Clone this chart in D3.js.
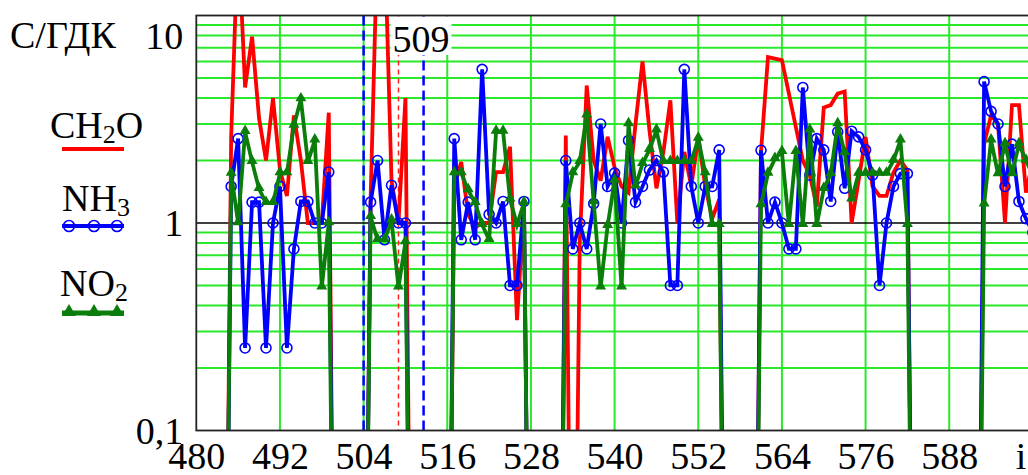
<!DOCTYPE html>
<html>
<head>
<meta charset="utf-8">
<script src="https://cdn.jsdelivr.net/npm/d3@7/dist/d3.min.js"></script>
<style>
  body { margin: 0; background: #fff; }
  svg { display: block; }
  text { font-family: "Liberation Serif", "Times New Roman", serif; fill: #000; }
</style>
</head>
<body>
<svg id="chart" width="1028" height="475"></svg>
<script>
// Concentration relative to the maximum permissible level (С/ГДК) per sample index i.
// Index of the first value in every series below; one value per step of i.
const iStart = 480;

// Zero means no measurement: the line falls off the bottom of the log axis.
const ch2o = [
  0, 0, 0, 0, 0,
  2.6, 25, 4.5, 7.9, 3.2, 2.0, 4.0, 1.8, 1.35, 3.3, 2.0, 1.0, 1.0, 1.0, 3.4,
  0, 0, 0, 0, 0,
  1.3, 25, 25, 1.6, 1.0, 4.0,
  0, 0, 0, 0, 0, 0,
  1.5, 1.97, 1.1, 0.95, 1.0, 1.0, 1.76, 1.76, 2.33, 0.34, 1.2,
  0, 0, 0, 0, 0,
  2.64, 0, 0.8, 4.6, 2.0, 1.6, 2.6, 1.85, 1.5, 1.4, 3.0, 6.0, 2.8, 1.47, 2.2,
  3.9, 1.0, 2.2, 1.5, 2.6, 1.5, 1.05, 1.3,
  0, 0, 0, 0, 0,
  2.2, 6.3, 6.2, 6.1, 4.2, 2.9, 2.0, 1.7, 1.2, 3.6, 3.7, 4.2, 4.3, 1.0, 1.6,
  2.6, 1.5, 1.35, 1.35, 1.75, 2.0, 1.8,
  0, 0, 0, 0, 0, 0, 0, 0, 0, 0,
  2.4, 3.3, 3.0, 1.0, 3.7, 3.7, 1.4, 2.0
];

const nh3 = [
  0, 0, 0, 0, 0,
  1.5, 2.55, 0.25, 1.26, 1.26, 0.25, 1.0, 1.5, 0.25, 0.75, 1.27, 1.27, 1.0, 1.0, 1.76,
  0, 0, 0, 0, 0,
  1.26, 2.0, 0.83, 1.52, 1.0, 1.0,
  0, 0, 0, 0, 0, 0,
  2.55, 0.83, 1.26, 0.83, 5.5, 1.1, 1.0, 1.27, 0.5, 0.5, 1.27,
  0, 0, 0, 0, 0,
  2.0, 0.75, 1.0, 0.75, 1.24, 3.0, 1.5, 1.74, 1.0, 2.5, 1.26, 1.5, 1.8, 2.0, 1.76,
  0.5, 0.5, 5.5, 1.5, 1.0, 1.5, 1.5, 2.25,
  0, 0, 0, 0, 0,
  2.24, 1.0, 1.26, 1.0, 0.75, 0.75, 4.5, 1.7, 2.55, 2.25, 1.27, 2.75, 1.47, 2.77, 2.6,
  2.25, 1.7, 0.5, 1.0, 1.5, 1.73, 1.73,
  0, 0, 0, 0, 0, 0, 0, 0, 0, 0,
  4.8, 3.45, 3.0, 1.5, 2.4, 1.27, 1.05, 0.9
];

const no2 = [
  0, 0, 0, 0, 0,
  1.73, 1.0, 2.75, 1.97, 1.46, 1.25, 1.25, 1.74, 1.74, 2.95, 3.95, 1.97, 2.5, 0.49, 1.0,
  0, 0, 0, 0, 0,
  1.07, 0.83, 0.83, 1.03, 0.49, 0.81,
  0, 0, 0, 0, 0, 0,
  1.74, 1.74, 1.44, 1.25, 0.98, 0.83, 2.76, 2.76, 1.3, 0.98, 1.25,
  0, 0, 0, 0, 0,
  1.22, 1.74, 1.97, 3.3, 1.26, 0.49, 0.97, 1.6, 0.49, 3.0, 1.5, 1.93, 2.25, 2.8, 1.97,
  1.97, 1.97, 1.97, 1.97, 2.55, 1.74, 0.98, 0.98,
  0, 0, 0, 0, 0,
  1.22, 1.73, 2.04, 2.2, 0.98, 2.2, 0.98, 2.8, 0.98, 1.46, 1.72, 3.0, 2.18, 1.3, 1.73,
  1.73, 1.73, 1.73, 1.73, 2.0, 2.5, 0.98,
  0, 0, 0, 0, 0, 0, 0, 0, 0, 0,
  1.23, 2.5, 1.72, 2.4, 1.72, 2.4, 2.0, 1.7
];

// Axis ticks and grid
const xTicks = [480, 492, 504, 516, 528, 540, 552, 564, 576, 588];
const xMax = 600;
const yTicks = [0.1, 1, 10];
const yTickLabels = ["0,1", "1", "10"];
const yGrid = [0.2, 0.3, 0.4, 0.5, 0.6, 0.7, 0.8, 0.9, 2, 3, 4, 5, 6, 7, 8, 9];

// Marked sample positions
const blueMarkers = [504, 512.6];
const redMarkers = [509];
const markerLabel = "509";

// Stand-in for zero on the logarithmic axis
const FLOOR = 0.001;

(function draw() {
  const svg = d3.select("#chart");

  const x = d3.scaleLinear().domain([iStart, xMax]).range([196.3, 1032.9]);
  const y = d3.scaleLog().domain([0.1, 10]).range([430.5, 15.5]);

  const pL = x(iStart), pR = x(xMax), pT = y(10), pB = y(0.1);
  const gridColor = "#2ae82a";

  svg.append("defs").append("clipPath").attr("id", "plotClip")
    .append("rect").attr("x", pL).attr("y", pT)
    .attr("width", pR - pL).attr("height", pB - pT);

  // Grid
  const gridG = svg.append("g");
  gridG.selectAll("line.h").data(yGrid).join("line").attr("class", "h")
    .attr("x1", pL).attr("x2", pR)
    .attr("y1", d => y(d)).attr("y2", d => y(d))
    .attr("stroke", gridColor).attr("stroke-width", 2);
  gridG.selectAll("line.v").data(xTicks.filter(d => d > iStart)).join("line").attr("class", "v")
    .attr("x1", d => x(d)).attr("x2", d => x(d))
    .attr("y1", pT).attr("y2", pB)
    .attr("stroke", gridColor).attr("stroke-width", 2);
  gridG.append("line")
    .attr("x1", pL).attr("x2", pR)
    .attr("y1", y(1)).attr("y2", y(1))
    .attr("stroke", "#000").attr("stroke-width", 1.5);

  // Marker lines
  const markG = svg.append("g");
  markG.selectAll("line.b").data(blueMarkers).join("line").attr("class", "b")
    .attr("x1", d => x(d)).attr("x2", d => x(d))
    .attr("y1", pT).attr("y2", pB)
    .attr("stroke", "#0000ff").attr("stroke-width", 2.5)
    .attr("stroke-dasharray", "10,5");
  markG.selectAll("line.r").data(redMarkers).join("line").attr("class", "r")
    .attr("x1", d => x(d)).attr("x2", d => x(d))
    .attr("y1", pT).attr("y2", pB)
    .attr("stroke", "#ff2020").attr("stroke-width", 1.5)
    .attr("stroke-dasharray", "5,4");

  // Series
  const toPoints = arr => arr.map((v, k) => ({ i: iStart + k, v }));
  const line = d3.line()
    .x(d => x(d.i))
    .y(d => y(Math.max(d.v, FLOOR)));

  const series = [
    { data: ch2o, color: "#ff0000", marker: "none" },
    { data: nh3, color: "#0000ff", marker: "circle" },
    { data: no2, color: "#0a7d0a", marker: "triangle" }
  ];

  const plotG = svg.append("g").attr("clip-path", "url(#plotClip)");
  const tri = d3.symbol().type(d3.symbolTriangle).size(52);
  const triLegend = d3.symbol().type(d3.symbolTriangle).size(85);

  series.forEach(s => {
    const pts = toPoints(s.data);
    plotG.append("path")
      .datum(pts)
      .attr("d", line)
      .attr("fill", "none")
      .attr("stroke", s.color)
      .attr("stroke-width", 3.8)
      .attr("stroke-linejoin", "miter");
    const shown = pts.filter(d => d.v > 0);
    if (s.marker === "circle") {
      plotG.append("g").selectAll("circle").data(shown).join("circle")
        .attr("cx", d => x(d.i)).attr("cy", d => y(d.v)).attr("r", 5)
        .attr("fill", "none").attr("stroke", s.color).attr("stroke-width", 1.6);
    } else if (s.marker === "triangle") {
      plotG.append("g").selectAll("path").data(shown).join("path")
        .attr("d", tri)
        .attr("transform", d => `translate(${x(d.i)},${y(d.v) - 1})`)
        .attr("fill", s.color);
    }
  });

  // Marker label with white backing
  const lblG = svg.append("g");
  const lbl = lblG.append("text")
    .attr("x", (x(redMarkers[0]) + x(blueMarkers[1])) / 2 + 10)
    .attr("y", 52)
    .attr("text-anchor", "middle")
    .attr("font-size", 38)
    .text(markerLabel);
  const bb = lbl.node().getBBox();
  lblG.insert("rect", "text")
    .attr("x", bb.x - 2).attr("y", pT + 1)
    .attr("width", bb.width + 4).attr("height", bb.y + bb.height - pT - 6)
    .attr("fill", "#fff");

  // Frame
  svg.append("rect")
    .attr("x", pL).attr("y", pT)
    .attr("width", pR - pL).attr("height", pB - pT)
    .attr("fill", "none").attr("stroke", "#222").attr("stroke-width", 1.8);

  // Axes
  const xAxis = d3.axisBottom(x).tickValues(xTicks).tickSize(0).tickFormat(d3.format("d"));
  const xg = svg.append("g").attr("transform", `translate(0,${pB})`).call(xAxis);
  xg.select(".domain").remove();
  xg.selectAll("text")
    .attr("y", 38).attr("dy", 0)
    .attr("font-size", 38)
    .attr("font-family", "Liberation Serif, serif")
    .attr("fill", "#000");

  svg.append("text")
    .attr("x", 1021).attr("y", pB + 38)
    .attr("text-anchor", "middle")
    .attr("font-size", 38)
    .text("i");

  const yAxis = d3.axisLeft(y).tickValues(yTicks).tickSize(0).tickPadding(13)
    .tickFormat((d, k) => yTickLabels[k]);
  const yg = svg.append("g").attr("transform", `translate(${pL},0)`).call(yAxis);
  yg.select(".domain").remove();
  yg.selectAll("text")
    .attr("dy", d => d === 10 ? "0.86em" : "0.33em")
    .attr("font-size", 38)
    .attr("font-family", "Liberation Serif, serif")
    .attr("fill", "#000");

  // Axis title
  svg.append("text")
    .attr("x", 10).attr("y", 48)
    .attr("font-size", 38)
    .text("С/ГДК");

  // Legend
  const legend = [
    { base: "CH", sub: "2", tail: "O", x: 50, y: 138, lineY: 149, s: series[0] },
    { base: "NH", sub: "3", tail: "", x: 62, y: 211, lineY: 226, s: series[1] },
    { base: "NO", sub: "2", tail: "", x: 60, y: 296, lineY: 313, s: series[2] }
  ];
  const legG = svg.append("g");
  const mx = [69, 94, 117];
  legend.forEach(L => {
    const t = legG.append("text").attr("x", L.x).attr("y", L.y).attr("font-size", 38);
    t.append("tspan").text(L.base);
    t.append("tspan").attr("font-size", 26).attr("dy", 5).text(L.sub);
    if (L.tail) t.append("tspan").attr("dy", -5).text(L.tail);
    legG.append("line")
      .attr("x1", 62).attr("x2", 124)
      .attr("y1", L.lineY).attr("y2", L.lineY)
      .attr("stroke", L.s.color).attr("stroke-width", L.s.marker === "triangle" ? 5 : 4);
    if (L.s.marker === "circle") {
      legG.append("g").selectAll("circle").data(mx).join("circle")
        .attr("cx", d => d).attr("cy", L.lineY).attr("r", 5.5)
        .attr("fill", "none").attr("stroke", L.s.color).attr("stroke-width", 1.6);
    } else if (L.s.marker === "triangle") {
      legG.append("g").selectAll("path").data(mx).join("path")
        .attr("d", triLegend)
        .attr("transform", d => `translate(${d},${L.lineY - 1})`)
        .attr("fill", L.s.color);
    }
  });
})();
</script>
</body>
</html>
